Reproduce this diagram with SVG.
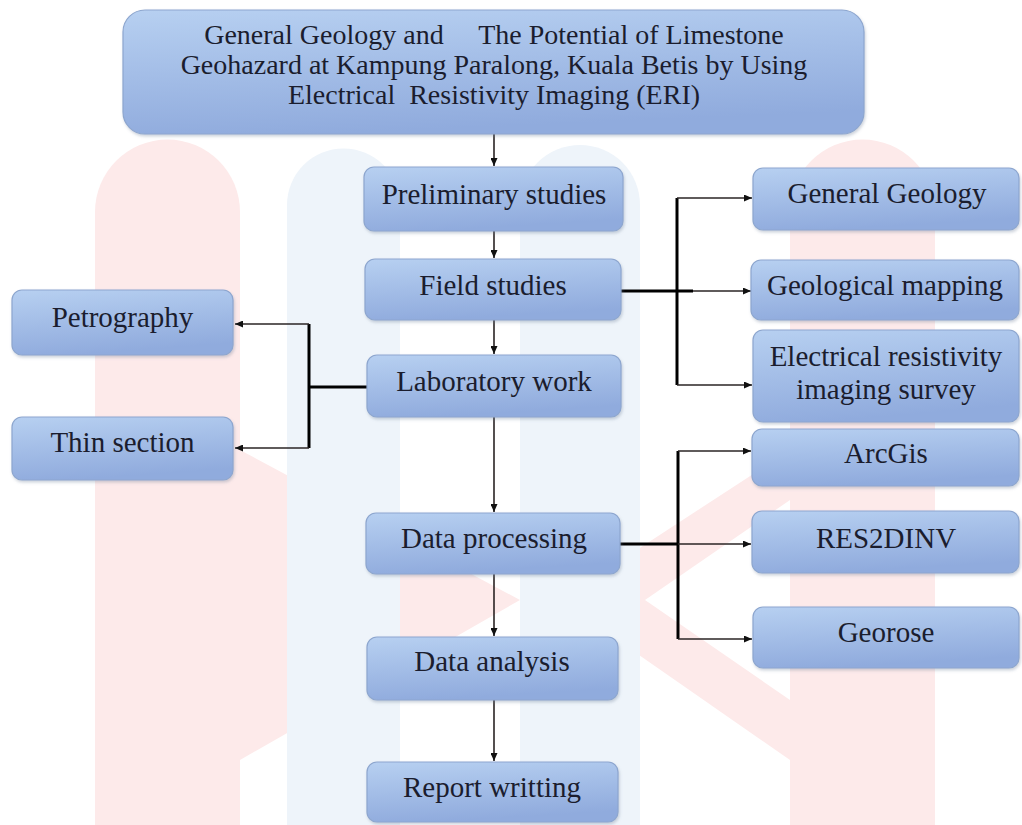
<svg xmlns="http://www.w3.org/2000/svg" width="1022" height="825" viewBox="0 0 1022 825">
  <style>
    .box { fill: url(#boxg); stroke: #8da6cf; stroke-width: 1.2; filter: url(#sh); }
    .t { font-family: "Liberation Serif", "Times New Roman", serif; font-size: 29px; fill: #1b1d2e; text-anchor: middle; }
    .tt { font-size: 28px; }
    .thin { fill: none; stroke: #2a2424; stroke-width: 1.6; marker-end: url(#ah); }
    .thick { fill: none; stroke: #000; stroke-width: 3; }
    .wmp { fill: #fdeaea; }
    .wmb { fill: #eef4fa; }
  </style>
  <defs>
    <linearGradient id="boxg" x1="0" y1="0" x2="0.25" y2="1">
      <stop offset="0" stop-color="#b7d0f1"/>
      <stop offset="1" stop-color="#90abdd"/>
    </linearGradient>
    <filter id="sh" x="-5%" y="-10%" width="110%" height="125%">
      <feDropShadow dx="1" dy="2" stdDeviation="1.5" flood-color="#6f7f99" flood-opacity="0.35"/>
    </filter>
    <marker id="ah" viewBox="0 0 8 7" refX="8" refY="3.5" markerWidth="8" markerHeight="7" markerUnits="userSpaceOnUse" orient="auto">
      <path d="M0,0 L8,3.5 L0,7 Z" fill="#111"/>
    </marker>
  </defs>
  <rect width="1022" height="825" fill="#ffffff"/>
  <g id="watermark">
    <path class="wmp" d="M95,825 V212 A72.5,72.5 0 0 1 240,212 V825 Z"/>
    <path class="wmp" d="M790,825 V212 A72.5,72.5 0 0 1 935,212 V825 Z"/>
    <path class="wmp" d="M240,450 L520,600 L240,760 Z"/>
    <path class="wmp" d="M790,450 L560,600 L790,760 Z"/>
    <path d="M790,500 L645,600 L790,700 Z" fill="#ffffff"/>
    <path class="wmb" d="M287,825 V205 A56.5,56.5 0 0 1 400,205 V825 Z"/>
    <path class="wmb" d="M520,825 V205 A60,60 0 0 1 640,205 V825 Z"/>
  </g>
  <g id="connectors">
    <path class="thin" d="M494,134 V166"/>
    <path class="thin" d="M494,231 V258"/>
    <path class="thin" d="M494,320 V354"/>
    <path class="thin" d="M494,417 V512"/>
    <path class="thin" d="M494,574 V636"/>
    <path class="thin" d="M494,700 V761"/>
    <path class="thick" d="M621,291 H693"/>
    <path class="thick" d="M677,198 V385"/>
    <path class="thin" d="M677,198 H752"/>
    <path class="thin" d="M693,291 H751"/>
    <path class="thin" d="M677,385 H752"/>
    <path class="thick" d="M367,387 H309"/>
    <path class="thick" d="M309,324 V448"/>
    <path class="thin" d="M309,324 H235"/>
    <path class="thin" d="M309,448 H235"/>
    <path class="thick" d="M605,544 H678"/>
    <path class="thick" d="M678,451 V639"/>
    <path class="thin" d="M678,451 H751"/>
    <path class="thin" d="M678,544 H751"/>
    <path class="thin" d="M678,639 H752"/>
  </g>
  <g id="title">
    <rect class="box" x="123" y="10" width="741" height="124" rx="22"/>
    <text class="t tt" x="494" y="44" xml:space="preserve">General Geology and     The Potential of Limestone</text>
    <text class="t tt" x="494" y="74">Geohazard at Kampung Paralong, Kuala Betis by Using</text>
    <text class="t tt" x="494" y="104" xml:space="preserve">Electrical  Resistivity Imaging (ERI)</text>
  </g>
  <g id="preliminary">
    <rect class="box" x="364" y="167" width="259" height="64" rx="10"/>
    <text class="t" x="494" y="204">Preliminary studies</text>
  </g>
  <g id="field">
    <rect class="box" x="365" y="259" width="256" height="61" rx="10"/>
    <text class="t" x="493" y="295">Field studies</text>
  </g>
  <g id="laboratory">
    <rect class="box" x="367" y="355" width="254" height="62" rx="10"/>
    <text class="t" x="494" y="391">Laboratory work</text>
  </g>
  <g id="processing">
    <rect class="box" x="366" y="513" width="254" height="61" rx="10"/>
    <text class="t" x="494" y="548">Data processing</text>
  </g>
  <g id="analysis">
    <rect class="box" x="367" y="637" width="251" height="63" rx="10"/>
    <text class="t" x="492" y="671">Data analysis</text>
  </g>
  <g id="report">
    <rect class="box" x="367" y="762" width="251" height="60" rx="10"/>
    <text class="t" x="492" y="797">Report writting</text>
  </g>
  <g id="petrography">
    <rect class="box" x="12" y="290" width="221" height="65" rx="10"/>
    <text class="t" x="122.5" y="327">Petrography</text>
  </g>
  <g id="thinsection">
    <rect class="box" x="12" y="417" width="221" height="63" rx="10"/>
    <text class="t" x="122.5" y="452">Thin section</text>
  </g>
  <g id="generalgeology">
    <rect class="box" x="753" y="168" width="266" height="62" rx="10"/>
    <text class="t" x="887" y="203">General Geology</text>
  </g>
  <g id="mapping">
    <rect class="box" x="751" y="260" width="268" height="60" rx="10"/>
    <text class="t" x="885" y="295">Geological mapping</text>
  </g>
  <g id="eri">
    <rect class="box" x="753" y="330" width="266" height="92" rx="10"/>
    <text class="t" x="886" y="366">Electrical resistivity</text>
    <text class="t" x="886" y="399">imaging survey</text>
  </g>
  <g id="arcgis">
    <rect class="box" x="752" y="429" width="267" height="57" rx="10"/>
    <text class="t" x="886" y="463">ArcGis</text>
  </g>
  <g id="res2dinv">
    <rect class="box" x="752" y="511" width="267" height="62" rx="10"/>
    <text class="t" x="886" y="548">RES2DINV</text>
  </g>
  <g id="georose">
    <rect class="box" x="753" y="607" width="266" height="61" rx="10"/>
    <text class="t" x="886" y="642">Georose</text>
  </g>
</svg>
